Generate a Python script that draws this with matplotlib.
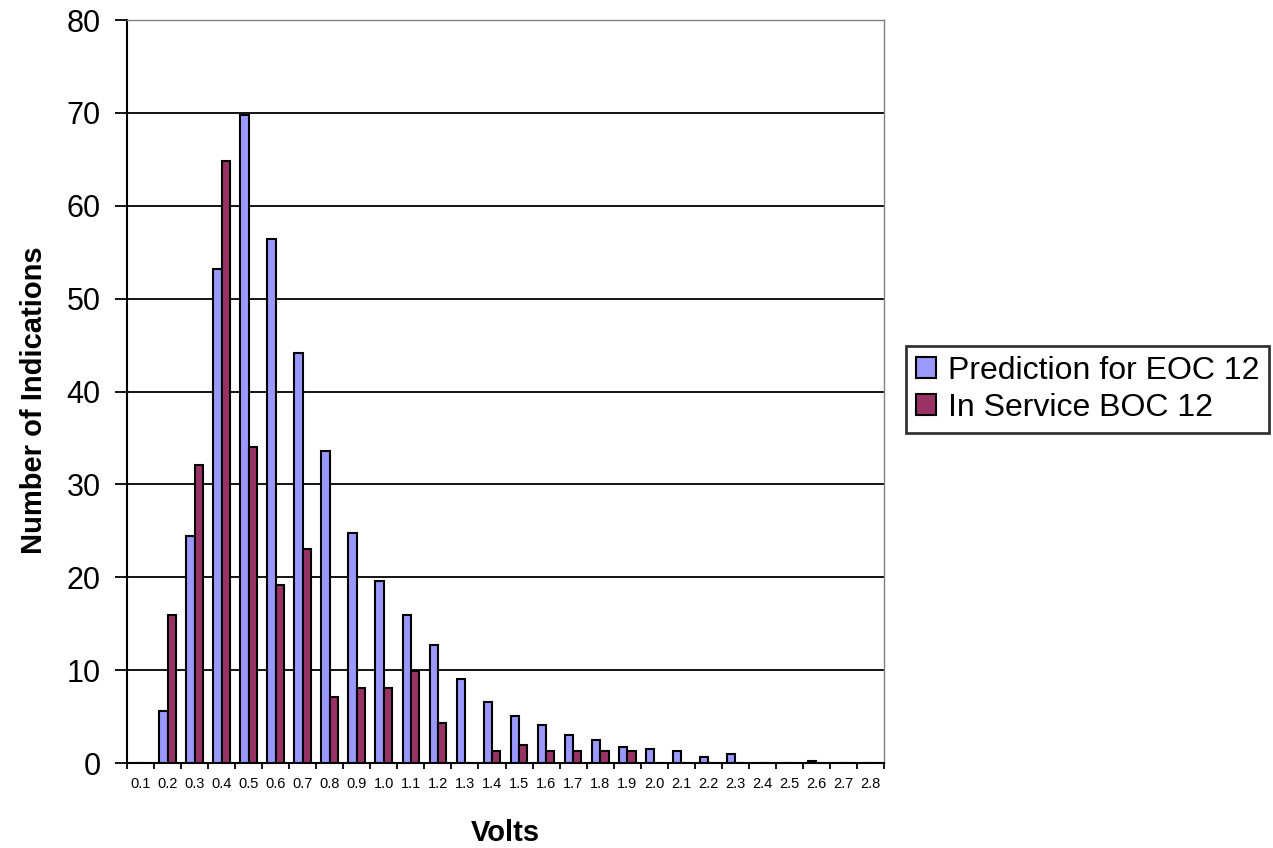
import numpy as np
import matplotlib.pyplot as plt
from matplotlib.ticker import MultipleLocator, FixedLocator

plt.rcParams['font.family'] = ['Liberation Sans', 'DejaVu Sans']

volts = ['0.1', '0.2', '0.3', '0.4', '0.5', '0.6', '0.7', '0.8', '0.9', '1.0',
         '1.1', '1.2', '1.3', '1.4', '1.5', '1.6', '1.7', '1.8', '1.9', '2.0',
         '2.1', '2.2', '2.3', '2.4', '2.5', '2.6', '2.7', '2.8']
prediction_eoc12 = [0, 5.6, 24.4, 53.2, 69.8, 56.4, 44.1, 33.6, 24.8, 19.6,
                    15.9, 12.7, 9.0, 6.6, 5.1, 4.1, 3.0, 2.5, 1.7, 1.5,
                    1.25, 0.6, 1.0, 0, 0, 0.2, 0, 0]
in_service_boc12 = [0, 15.9, 32.1, 64.8, 34.0, 19.2, 23.0, 7.1, 8.1, 8.1,
                    9.9, 4.3, 0, 1.25, 1.9, 1.25, 1.25, 1.25, 1.25, 0,
                    0, 0, 0, 0, 0, 0, 0, 0]

fig = plt.figure(figsize=(12.73, 8.48), dpi=100)
ax = fig.add_axes([0.0998, 0.1002, 0.5946, 0.8762])

x = np.arange(len(volts))
w = 0.31
ax.bar(x - w / 2, prediction_eoc12, w, color='#9999FF', edgecolor='black',
       linewidth=1.5, label='Prediction for EOC 12', zorder=3)
ax.bar(x + w / 2, in_service_boc12, w, color='#993366', edgecolor='black',
       linewidth=1.5, label='In Service BOC 12', zorder=3)

ax.set_xlim(-0.5, len(volts) - 0.5)
ax.set_ylim(0, 80)
ax.yaxis.set_major_locator(MultipleLocator(10))
ax.grid(axis='y', color='black', linewidth=1.3, zorder=1)

# category labels centred, ticks on the boundaries
ax.set_xticks(x)
ax.set_xticklabels(volts, fontsize=10.5)
ax.tick_params(axis='x', which='major', length=0, pad=10)
ax.xaxis.set_minor_locator(FixedLocator(np.arange(-0.5, len(volts), 1.0)))
ax.tick_params(axis='x', which='minor', length=4, width=1.3, direction='out')
ax.tick_params(axis='y', labelsize=22, length=9, width=1.3, direction='out', pad=10)

for s in ['top', 'right']:
    ax.spines[s].set_color('#808080')
    ax.spines[s].set_linewidth(1.0)
for s in ['left', 'bottom']:
    ax.spines[s].set_color('black')
    ax.spines[s].set_linewidth(1.5)

ax.set_ylabel('Number of Indications', fontsize=21, fontweight='bold')
ax.yaxis.set_label_coords(-0.105, 0.4886)
ax.set_xlabel('Volts', fontsize=21, fontweight='bold', labelpad=20)

leg = fig.legend(loc='center left', bbox_to_anchor=(0.7117, 0.5407), fontsize=23,
                 frameon=True, fancybox=False, edgecolor='black',
                 handlelength=0.63, handleheight=0.63, handletextpad=0.38,
                 labelspacing=0.22, borderpad=0.3, borderaxespad=0)
leg.get_frame().set_linewidth(2.0)

fig.savefig('out.png', dpi=100)
